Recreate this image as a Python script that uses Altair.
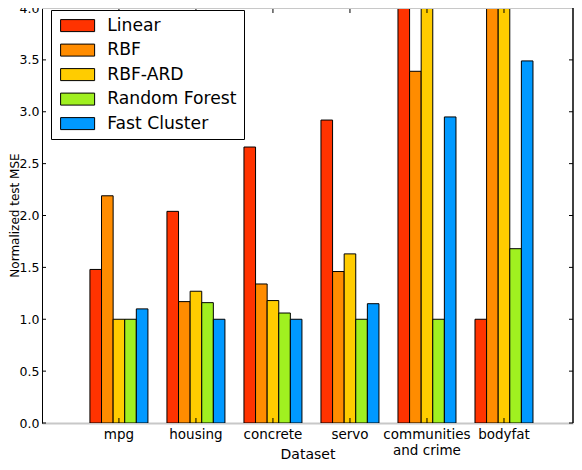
import altair as alt
import pandas as pd

datasets = ["mpg", "housing", "concrete", "servo", "communities and crime", "bodyfat"]
methods = ["Linear", "RBF", "RBF-ARD", "Random Forest", "Fast Cluster"]
colors = ["#ff3300", "#ff8c00", "#ffcc00", "#a0f020", "#0099ff"]

# bars running off the top of the axis get a value above 4.0 and are clipped
linear = [1.48, 2.04, 2.66, 2.92, 4.6, 1.00]
rbf = [2.19, 1.17, 1.34, 1.46, 3.39, 4.6]
rbf_ard = [1.00, 1.27, 1.18, 1.63, 4.6, 4.6]
forest = [1.00, 1.16, 1.06, 1.00, 1.00, 1.68]
cluster = [1.10, 1.00, 1.00, 1.15, 2.95, 3.49]

y_ticks = [0.0, 0.5, 1.0, 1.5, 2.0, 2.5, 3.0, 3.5, 4.0]

rows = []
for m, vals in zip(methods, [linear, rbf, rbf_ard, forest, cluster]):
    for d, v in zip(datasets, vals):
        rows.append({"dataset": d, "method": m, "mse": v})
df = pd.DataFrame(rows)

W, H = 531, 415
FONT = "DejaVu Sans"
X_TITLE = "Dataset"
Y_TITLE = "Normalized test MSE"

x_scale = alt.Scale(domain=datasets, paddingInner=0.247, paddingOuter=0.571, align=0.545)
y_scale = alt.Scale(domain=[0, 4])

bars = alt.Chart(df).mark_bar(stroke="black", strokeWidth=1, clip=True).encode(
    x=alt.X("dataset:N", scale=x_scale, sort=datasets, title=X_TITLE,
            axis=alt.Axis(labelAngle=0, ticks=False,
                          domainColor="#c8c8c8", domainWidth=2,
                          labelPadding=4, labelFontSize=13.5, labelOverlap=False,
                          labelLineHeight=16,
                          labelExpr="datum.label == 'communities and crime' ? ['communities', 'and crime'] : datum.label",
                          titleY=35.5, titleBaseline="alphabetic")),
    xOffset=alt.XOffset("method:N", sort=methods,
                        scale=alt.Scale(domain=methods, paddingInner=0, paddingOuter=0)),
    y=alt.Y("mse:Q", scale=y_scale, title=Y_TITLE,
            axis=alt.Axis(values=y_ticks, format=".1f",
                          ticks=False, grid=False, domainColor="black", domainWidth=1,
                          labelPadding=3, labelFontSize=12.5,
                          titleX=-24, titleY=207, titleFontSize=12,
                          titleBaseline="alphabetic")),
    color=alt.Color("method:N", sort=methods,
                    scale=alt.Scale(domain=methods, range=colors),
                    legend=alt.Legend(title=None, orient="none", legendX=9, legendY=2,
                                      direction="vertical", fillColor="white",
                                      strokeColor="black", padding=7, rowPadding=6.5,
                                      symbolType="M-1,-1L4.67,-1L4.67,1L-1,1Z",
                                      symbolSize=144, symbolStrokeColor="black",
                                      symbolStrokeWidth=1, symbolOpacity=1,
                                      labelOffset=32, labelFontSize=17.2,
                                      labelFont=FONT, labelColor="black")),
)

# matplotlib style ticks pointing into the plot
ytick_df = pd.DataFrame({"mse": y_ticks})
xtick_df = pd.DataFrame({"dataset": datasets})
one = pd.DataFrame({"a": [0]})

y_enc = alt.Y("mse:Q", scale=y_scale, title=Y_TITLE)
x_enc = alt.X("dataset:N", scale=x_scale, sort=datasets, title=X_TITLE)

left_ticks = alt.Chart(ytick_df).mark_rule(color="black").encode(
    y=y_enc, x=alt.value(0), x2=alt.value(4))
right_ticks = alt.Chart(ytick_df).mark_rule(color="black").encode(
    y=y_enc, x=alt.value(W - 4), x2=alt.value(W))
bottom_ticks = alt.Chart(xtick_df).mark_rule(color="black").encode(
    x=x_enc, y=alt.value(H - 5), y2=alt.value(H))
top_ticks = alt.Chart(xtick_df).mark_rule(color="black").encode(
    x=x_enc, y=alt.value(0), y2=alt.value(5))

top_border = alt.Chart(one).mark_rule(color="#c8c8c8", strokeWidth=2).encode(
    x=alt.value(0), x2=alt.value(W), y=alt.value(0))
right_border = alt.Chart(one).mark_rule(color="black", strokeWidth=1.5).encode(
    x=alt.value(W), y=alt.value(0), y2=alt.value(H))

chart = alt.layer(
    bars, left_ticks, right_ticks, bottom_ticks, top_ticks, top_border, right_border
).properties(
    width=W, height=H,
    autosize=alt.AutoSizeParams(type="none"),
    padding={"left": 34, "top": 0, "right": 1, "bottom": 39},
).configure_view(
    strokeWidth=0
).configure_axis(
    labelFont=FONT, titleFont=FONT, labelColor="black", titleColor="black",
    titleFontSize=14, titleFontWeight="normal"
)

chart.save("out.html", embed_options={"renderer": "svg", "actions": False})
